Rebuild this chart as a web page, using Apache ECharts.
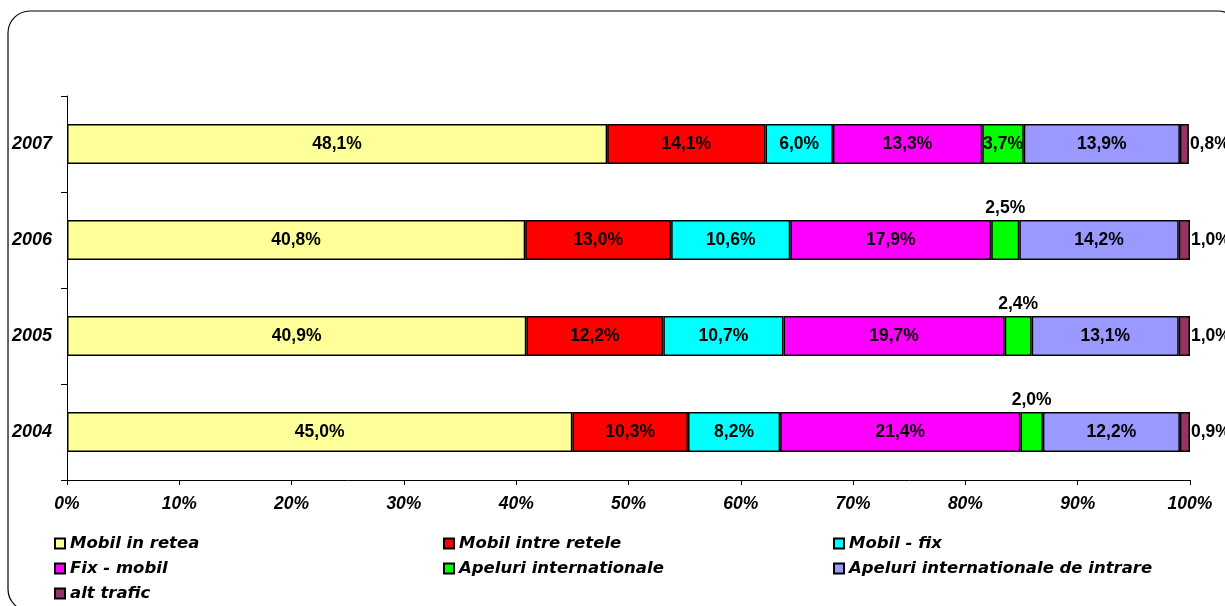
<!DOCTYPE html>
<html>
<head>
<meta charset="utf-8">
<script src="https://cdn.jsdelivr.net/npm/echarts@6/dist/echarts.min.js"></script>
<style>
  html, body { margin: 0; padding: 0; background: #fff; }
  #chart { width: 1225px; height: 606px; }
</style>
</head>
<body>
<div id="chart"></div>
<script>
const years = ['2004', '2005', '2006', '2007']
const seriesNames = [
  'Mobil in retea',
  'Mobil intre retele',
  'Mobil - fix',
  'Fix - mobil',
  'Apeluri internationale',
  'Apeluri internationale de intrare',
  'alt trafic'
]
const mobilInRetea = [45.0, 40.9, 40.8, 48.1]
const mobilIntreRetele = [10.3, 12.2, 13.0, 14.1]
const mobilFix = [8.2, 10.7, 10.6, 6.0]
const fixMobil = [21.4, 19.7, 17.9, 13.3]
const apeluriInternationale = [2.0, 2.4, 2.5, 3.7]
const apeluriIntrare = [12.2, 13.1, 14.2, 13.9]
const altTrafic = [0.9, 1.0, 1.0, 0.8]
const xTicks = [0, 10, 20, 30, 40, 50, 60, 70, 80, 90, 100]

const colors = ['#FFFF99', '#FF0000', '#00FFFF', '#FF00FF', '#00FF00', '#9999FF', '#993366']
const values = [mobilInRetea, mobilIntreRetele, mobilFix, fixMobil, apeluriInternationale, apeluriIntrare, altTrafic]

const font = 'Arial, "Liberation Sans", sans-serif'
const fmt = v => v.toFixed(1).replace('.', ',') + '%'

// small green pieces get the label above, the last piece to the right
function labelPos (seriesIdx, v) {
  if (seriesIdx === 6) return 'right'
  if (seriesIdx === 4 && v < 3) return 'top'
  return 'inside'
}

const series = seriesNames.map((name, i) => ({
  name: name,
  type: 'bar',
  stack: 'total',
  barWidth: 40,
  itemStyle: { color: colors[i], borderColor: '#000', borderWidth: 1.5 },
  emphasis: { disabled: true },
  data: values[i].map(v => ({
    value: v,
    label: {
      show: true,
      position: labelPos(i, v),
      distance: labelPos(i, v) === 'right' ? 1 : 3,
      formatter: p => fmt(p.value),
      color: '#000',
      fontWeight: 'bold',
      fontSize: 17.5,
      fontFamily: font
    }
  }))
}))

const legendText = { fontSize: 16.5, fontWeight: 'bold', fontStyle: 'italic', fontFamily: '"DejaVu Sans", sans-serif', color: '#000', lineHeight: 16 }
function legendCol (left, names) {
  return {
    orient: 'vertical',
    left: left,
    top: 535,
    padding: 0,
    itemWidth: 10,
    itemHeight: 10,
    itemGap: 8,
    icon: 'rect',
    selectedMode: false,
    textStyle: legendText,
    data: names
  }
}

const chart = echarts.init(document.getElementById('chart'))
chart.setOption({
  animation: false,
  color: colors,
  graphic: [{
    type: 'rect',
    shape: { x: 8, y: 11, width: 1232, height: 600, r: 22 },
    style: { fill: 'none', stroke: '#000', lineWidth: 1.2 },
    silent: true
  }],
  grid: { left: 67, right: 35, top: 96, bottom: 126 },
  legend: [
    legendCol(54, [seriesNames[0], seriesNames[3], seriesNames[6]]),
    legendCol(443, [seriesNames[1], seriesNames[4]]),
    legendCol(833, [seriesNames[2], seriesNames[5]])
  ],
  xAxis: {
    type: 'value',
    min: xTicks[0],
    max: xTicks[xTicks.length - 1],
    interval: 10,
    splitLine: { show: false },
    axisLine: { show: true, lineStyle: { color: '#000', width: 1 } },
    axisTick: { show: true, length: 5, lineStyle: { color: '#000' } },
    axisLabel: {
      formatter: '{value}%',
      margin: 15,
      color: '#000',
      fontSize: 17.5,
      fontWeight: 'bold',
      fontStyle: 'italic',
      fontFamily: font
    }
  },
  yAxis: {
    type: 'category',
    data: years,
    axisLine: { show: true, lineStyle: { color: '#000', width: 1 } },
    axisTick: { show: true, length: 6, lineStyle: { color: '#000' } },
    axisLabel: {
      margin: 15,
      color: '#000',
      fontSize: 18,
      fontWeight: 'bold',
      fontStyle: 'italic',
      fontFamily: font
    }
  },
  series: series
})
</script>
</body>
</html>
